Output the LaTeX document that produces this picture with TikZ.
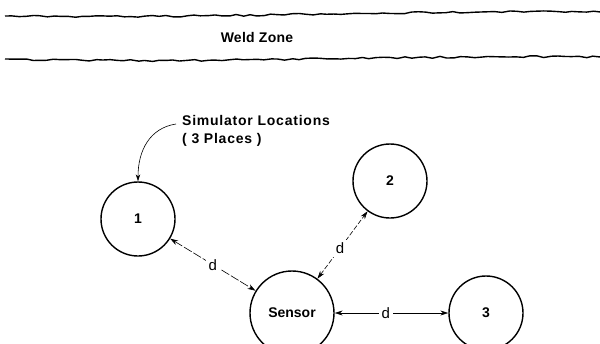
\documentclass[tikz,border=0pt]{standalone}
\usepackage{fontspec}
\setmainfont{Liberation Sans}
\usetikzlibrary{arrows.meta,decorations.pathmorphing}
\begin{document}
\begin{tikzpicture}[x=1pt,y=-1pt,
  loc/.style={circle,draw,line width=1.4pt,minimum size=74pt,inner sep=0pt,font=\bfseries\fontsize{14}{16}\selectfont},
  conn/.style={line width=0.6pt,{Stealth[length=8pt,width=5pt]}-{Stealth[length=8pt,width=5pt]}},
  lab/.style={fill=white,inner sep=3pt,font=\fontsize{15}{17}\selectfont},
  weld/.style={line width=1.4pt,decorate,decoration={random steps,segment length=7pt,amplitude=0.9pt}}]
\useasboundingbox (0,0) rectangle (600,343);
\pgfmathsetseed{7}
\coordinate (t1) at (5,16);
\coordinate (t2) at (600,12);
\coordinate (b1) at (5,59);
\coordinate (b2) at (600,57);
\draw[weld] (t1) .. controls (200,19) and (400,10) .. (t2);
\draw[weld] (b1) .. controls (200,64) and (400,55) .. (b2);
\node[font=\bfseries\fontsize{14}{16}\selectfont\addfontfeature{LetterSpace=2}] (wz) at (257,37) {Weld Zone};
\node[loc] (n1) at (138,219) {1};
\node[loc] (n2) at (390,181) {2};
\node[loc,minimum size=84pt] (s) at (292,313) {Sensor};
\node[loc] (n3) at (486,313) {3};
\node[anchor=north west,align=left,inner sep=0pt,font=\bfseries\fontsize{14}{18}\selectfont\addfontfeature{LetterSpace=5.5}] (sim) at (182,115) {Simulator Locations\\( 3 Places )};
\coordinate (simA) at (176,124);
\draw[line width=0.6pt,-{Stealth[length=7pt,width=4.5pt]}] (simA) .. controls (150,128) and (138,150) .. (n1.north);
\draw[conn,dash pattern=on 9pt off 2pt] (n1) -- node[lab] {d} (s);
\draw[conn,dash pattern=on 5pt off 2pt] (s) -- node[lab,pos=0.45] {d} (n2);
\draw[conn] (s) -- node[lab,pos=0.45] {d} (n3);
\end{tikzpicture}
\end{document}
